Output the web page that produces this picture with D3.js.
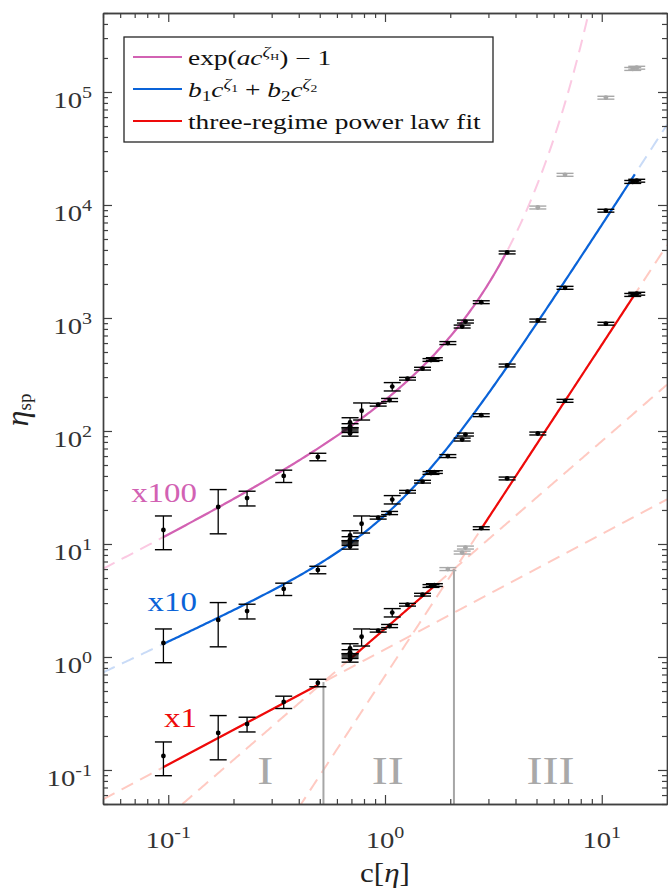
<!DOCTYPE html>
<html>
<head>
<meta charset="utf-8">
<script src="https://cdn.jsdelivr.net/npm/d3@7"></script>
<style>
body { margin: 0; background: #fff; }
text { font-family: "Liberation Serif", "DejaVu Serif", serif; }
</style>
</head>
<body>
<script>
//measured concentrations c[eta]
var conc = [0.095, 0.17, 0.231, 0.341, 0.49, 0.69, 0.69, 0.69, 0.69, 0.78, 0.93, 1.05, 1.08, 1.27, 1.49, 1.63, 1.69, 1.95, 2.27, 2.35, 2.78, 3.66, 5.07, 6.77, 10.45, 13.9, 14.5];
//specific viscosity (unshifted, the x1 series)
var etaSp = [0.133, 0.213, 0.255, 0.40, 0.59, 0.95, 1.02, 1.10, 1.19, 1.51, 1.71, 1.88, 2.47, 2.90, 3.56, 4.25, 4.33, 6.0, 8.4, 9.3, 13.8, 38, 95, 185, 890, 1600, 1640];
//error on eta_sp
var etaErr = [0.044, 0.09, 0.038, 0.05, 0.045, 0.05, 0.05, 0.06, 0.12, 0.26, 0.05, 0.06, 0.21, 0.08, 0.1, 0.12, 0.12, 0.18, 0.25, 0.28, 0.4, 1.1, 2.8, 5.5, 26, 48, 48];

//vertical shift of each copy
var shifts = [1, 10, 100];
var shiftLabels = ["x1", "x10", "x100"];
//points left out of a fit (drawn grey)
var grayX1 = [1.95, 2.27, 2.35];
var grayX100 = [5.07, 6.77, 10.45, 13.9, 14.5];

//fit parameters
var expFit = [1.056, 0.965];             // a, zeta_H
var sumFit = [1.08, 0.9, 0.72, 2.96];    // b1, zeta1, b2, zeta2
var regimePre = [1.169, 1.777, 0.68];
var regimeExp = [1.02, 1.66, 2.93];
var regimeBreaks = [0.52, 2.08];
var regimeNames = ["I", "II", "III"];
var regimeLabelC = [0.28, 1.03, 5.8];
//range covered by solid fit lines
var expSolid = [0.095, 3.66];
var sumSolid = [0.095, 14.2];
var regimeSolid = [[0.095, 0.49], [0.69, 1.69], [2.78, 14.2]];

//tick exponents
var xTickExp = [-1, 0, 1];
var yTickExp = [-1, 0, 1, 2, 3, 4, 5];

window.onload = setChart();

function setChart() {

    var width = 668,
        height = 892;

    var pink = "#d262b3", blue = "#0a63d8", red = "#ee0a0a";
    var pinkL = "#fbc9e2", blueL = "#c9dbf7", redL = "#ffcac2";
    var axisCol = "#404040";

    var svg = d3.select("body")
        .append("svg")
        .attr("width", width)
        .attr("height", height);

    var x = d3.scaleLog().domain([0.05, 20]).range([103, 667]);
    var y = d3.scaleLog().domain([0.05, 5e5]).range([804, 13]);

    //clip for everything inside the frame
    svg.append("clipPath").attr("id", "plotClip")
        .append("rect")
        .attr("x", 103).attr("y", 13)
        .attr("width", 564).attr("height", 791);

    var plot = svg.append("g").attr("clip-path", "url(#plotClip)");

    //log-spaced grid for the fit curves
    var grid = d3.range(0, 301).map(function(i){
        return 0.05 * Math.pow(400, i / 300);
    });

    function expModel(c) { return Math.exp(expFit[0] * Math.pow(c, expFit[1])) - 1; }
    function sumModel(c) { return sumFit[0] * Math.pow(c, sumFit[1]) + sumFit[2] * Math.pow(c, sumFit[3]); }
    function regimeModel(i) { return function(c) { return regimePre[i] * Math.pow(c, regimeExp[i]); }; }

    var line = d3.line()
        .x(function(d){ return x(d[0]); })
        .y(function(d){ return Math.max(-2000, Math.min(3000, y(d[1]))); });

    function curve(f, k, lo, hi) {
        var cs = grid.filter(function(c){ return c > lo && c < hi; });
        cs = [lo].concat(cs, [hi]);
        return cs.map(function(c){ return [c, k * f(c)]; });
    }

    //dashed extensions
    for (var r = 0; r < 3; r++) {
        plot.append("path")
            .attr("d", line(curve(regimeModel(r), 1, 0.05, 20)))
            .attr("fill", "none").attr("stroke", redL)
            .attr("stroke-width", 2).attr("stroke-dasharray", "13,8");
    }
    plot.append("path")
        .attr("d", line(curve(sumModel, 10, 0.05, 20)))
        .attr("fill", "none").attr("stroke", blueL)
        .attr("stroke-width", 2).attr("stroke-dasharray", "13,8");
    plot.append("path")
        .attr("d", line(curve(expModel, 100, 0.05, 9.5)))
        .attr("fill", "none").attr("stroke", pinkL)
        .attr("stroke-width", 2).attr("stroke-dasharray", "13,8");

    //regime boundaries
    regimeBreaks.forEach(function(b, i){
        plot.append("line")
            .attr("x1", x(b)).attr("x2", x(b))
            .attr("y1", y(0.05)).attr("y2", y(regimeModel(i)(b)))
            .attr("stroke", "#a6a6a6").attr("stroke-width", 2);
    });

    //solid fits
    regimeSolid.forEach(function(s, i){
        plot.append("path")
            .attr("d", line(curve(regimeModel(i), 1, s[0], s[1])))
            .attr("fill", "none").attr("stroke", red).attr("stroke-width", 2.2);
    });
    plot.append("path")
        .attr("d", line(curve(sumModel, 10, sumSolid[0], sumSolid[1])))
        .attr("fill", "none").attr("stroke", blue).attr("stroke-width", 2.2);
    plot.append("path")
        .attr("d", line(curve(expModel, 100, expSolid[0], expSolid[1])))
        .attr("fill", "none").attr("stroke", pink).attr("stroke-width", 2.2);

    //error bars and points
    shifts.forEach(function(k, s){
        var pts = conc.map(function(c, i){
            var grey = (s == 0 && grayX1.indexOf(c) >= 0) || (s == 2 && grayX100.indexOf(c) >= 0);
            return { c: c, v: etaSp[i] * k, e: etaErr[i] * k, col: grey ? "#a8a8a8" : "#000" };
        });
        var eb = plot.selectAll(".eb" + s)
            .data(pts)
            .enter()
            .append("g")
            .attr("class", "eb" + s);
        eb.append("line")
            .attr("x1", function(d){ return x(d.c); })
            .attr("x2", function(d){ return x(d.c); })
            .attr("y1", function(d){ return y(d.v - d.e); })
            .attr("y2", function(d){ return y(d.v + d.e); })
            .attr("stroke", function(d){ return d.col; }).attr("stroke-width", 1.3);
        [-1, 1].forEach(function(sg){
            eb.append("line")
                .attr("x1", function(d){ return x(d.c) - 8.5; })
                .attr("x2", function(d){ return x(d.c) + 8.5; })
                .attr("y1", function(d){ return y(d.v + sg * d.e); })
                .attr("y2", function(d){ return y(d.v + sg * d.e); })
                .attr("stroke", function(d){ return d.col; }).attr("stroke-width", 1.4);
        });
        eb.append("circle")
            .attr("cx", function(d){ return x(d.c); })
            .attr("cy", function(d){ return y(d.v); })
            .attr("r", 2.4)
            .attr("fill", function(d){ return d.col; });
    });

    //frame and ticks on all four sides
    var minorX = x.ticks().filter(function(v){ return Math.abs(Math.log10(v) % 1) > 1e-6; });
    var majorX = xTickExp.map(function(e){ return Math.pow(10, e); });
    var minorY = y.ticks().filter(function(v){ return Math.abs(Math.log10(v) % 1) > 1e-6; });
    var majorY = yTickExp.map(function(e){ return Math.pow(10, e); });

    var axes = [
        [d3.axisBottom(x), "translate(0,804)", minorX, majorX],
        [d3.axisTop(x), "translate(0,13)", minorX, majorX],
        [d3.axisLeft(y), "translate(103,0)", minorY, majorY],
        [d3.axisRight(y), "translate(667,0)", minorY, majorY]
    ];
    axes.forEach(function(a){
        svg.append("g").attr("transform", a[1])
            .call(a[0].tickValues(a[2]).tickSize(-5).tickSizeOuter(0).tickFormat(""));
        svg.append("g").attr("transform", a[1])
            .call(a[0].tickValues(a[3]).tickSize(-9).tickSizeOuter(0).tickFormat(""));
    });
    svg.selectAll(".domain").attr("stroke", axisCol).attr("stroke-width", 1.4);
    svg.selectAll(".tick line").attr("stroke", axisCol).attr("stroke-width", 1.2);

    //stretched text helper
    function label(px, py, sx, anchor) {
        return svg.append("g")
            .attr("transform", "translate(" + px + "," + py + ") scale(" + sx + ",1)")
            .append("text")
            .attr("text-anchor", anchor);
    }
    function powerLabel(t, e) {
        t.attr("fill", "#333").style("font-size", "23px");
        t.append("tspan").text("10");
        t.append("tspan").attr("dy", -10).style("font-size", "16px").text(e);
    }

    xTickExp.forEach(function(e){
        powerLabel(label(x(Math.pow(10, e)), 848, 1.25, "middle"), e);
    });
    yTickExp.forEach(function(e){
        powerLabel(label(92, y(Math.pow(10, e)) + 16, 1.25, "end"), e);
    });

    //axis titles
    var xt = label(385, 882, 1.15, "middle").style("font-size", "27px").attr("fill", "#222");
    xt.append("tspan").text("c[");
    xt.append("tspan").style("font-style", "italic").text("η");
    xt.append("tspan").text("]");

    var yt = svg.append("text")
        .attr("transform", "translate(28,410) rotate(-90)")
        .attr("text-anchor", "middle")
        .attr("fill", "#222");
    yt.append("tspan").style("font-size", "32px").style("font-style", "italic").text("η");
    yt.append("tspan").attr("dy", 3).style("font-size", "19px").text("sp");

    //regime names
    regimeNames.forEach(function(n, i){
        label(x(regimeLabelC[i]), 784, 1.17, "middle")
            .style("font-size", "41px").attr("fill", "#a9a9a9").text(n);
    });

    //shift labels
    var shiftCols = [red, blue, pink];
    var shiftY = [727, 611, 502];
    shiftLabels.forEach(function(n, i){
        label(197, shiftY[i], 1.22, "end")
            .style("font-size", "27px").attr("fill", shiftCols[i]).text(n);
    });

    //legend
    svg.append("rect")
        .attr("x", 124).attr("y", 37)
        .attr("width", 369).attr("height", 105)
        .attr("fill", "#fff").attr("stroke", "#262626").attr("stroke-width", 1.3);

    var legendRows = [
        [pink, [["exp(", 0, 20, 0], ["a", 1, 20, 0], ["c", 1, 20, 0], ["ζ", 1, 14, 8], ["H", 0, 9, 5], [") − 1", 0, 20, 0]]],
        [blue, [["b", 1, 20, 0], ["1", 0, 14, -4], ["c", 1, 20, 0], ["ζ", 1, 14, 8], ["1", 0, 10, 5], [" + ", 0, 20, 0],
                ["b", 1, 20, 0], ["2", 0, 14, -4], ["c", 1, 20, 0], ["ζ", 1, 14, 8], ["2", 0, 10, 5]]],
        [red, [["three-regime power law fit", 0, 20, 0]]]
    ];
    var rowY = [57, 89, 121];
    legendRows.forEach(function(row, i){
        svg.append("line")
            .attr("x1", 133).attr("x2", 182)
            .attr("y1", rowY[i]).attr("y2", rowY[i])
            .attr("stroke", row[0]).attr("stroke-width", 2.2);
        var t = label(188, rowY[i] + 7.5, 1.37, "start").attr("fill", "#111");
        var prev = 0;
        row[1].forEach(function(p){
            t.append("tspan")
                .attr("dy", prev - p[3])
                .style("font-style", p[1] ? "italic" : "normal")
                .style("font-size", p[2] + "px")
                .text(p[0]);
            prev = p[3];
        });
    });
}
</script>
</body>
</html>
